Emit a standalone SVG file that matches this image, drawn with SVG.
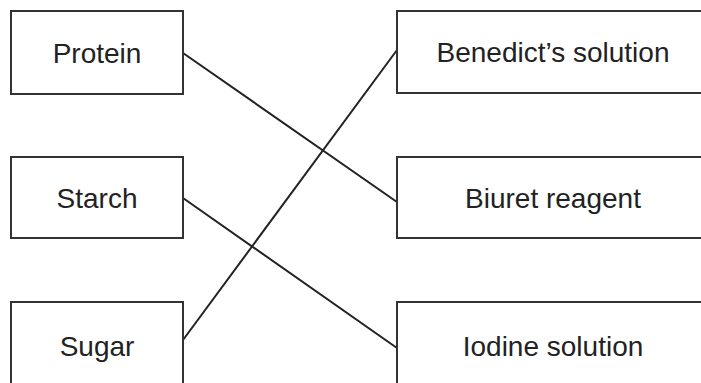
<svg xmlns="http://www.w3.org/2000/svg" width="701" height="383" viewBox="0 0 701 383">
<style>
.box{fill:#fff;stroke:#333;stroke-width:2}
.lbl{font-family:"Liberation Sans",Arial,sans-serif;font-size:28px;fill:#222;text-anchor:middle}
.con{stroke:#222;stroke-width:2;fill:none}
</style>
<rect width="701" height="383" fill="#fff"/>
<g id="connectors">
<line class="con" x1="183" y1="53" x2="397" y2="202"/>
<line class="con" x1="183" y1="198" x2="397" y2="348"/>
<line class="con" x1="183" y1="340" x2="397" y2="50"/>
</g>
<g id="protein"><rect class="box" x="11" y="11" width="172" height="83"/><text class="lbl" x="97" y="63">Protein</text></g>
<g id="starch"><rect class="box" x="11" y="157" width="172" height="81"/><text class="lbl" x="97" y="208">Starch</text></g>
<g id="sugar"><rect class="box" x="11" y="302" width="172" height="100"/><text class="lbl" x="97" y="356">Sugar</text></g>
<g id="benedict"><rect class="box" x="397" y="11" width="313" height="82"/><text class="lbl" x="553" y="62">Benedict’s solution</text></g>
<g id="biuret"><rect class="box" x="397" y="157" width="313" height="81"/><text class="lbl" x="553" y="208">Biuret reagent</text></g>
<g id="iodine"><rect class="box" x="397" y="302" width="313" height="100"/><text class="lbl" x="553" y="356">Iodine solution</text></g>
</svg>
